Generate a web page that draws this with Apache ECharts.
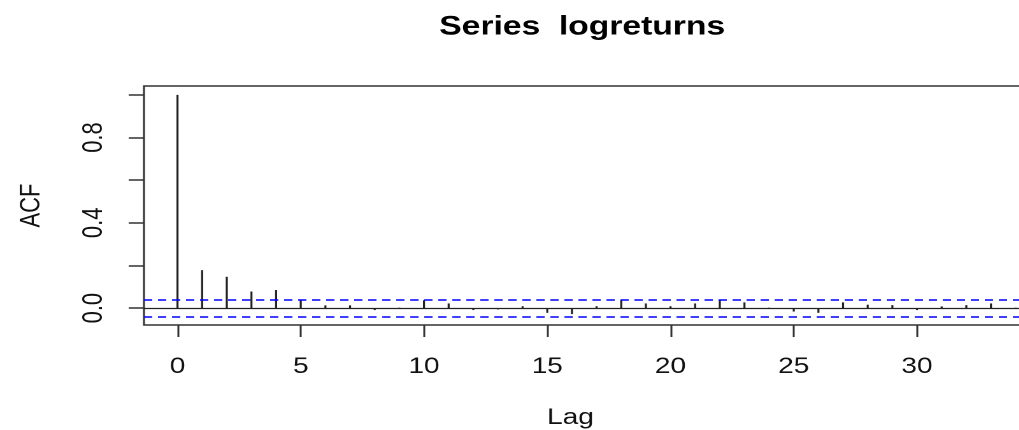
<!DOCTYPE html>
<html>
<head>
<meta charset="utf-8">
<script src="https://cdn.jsdelivr.net/npm/echarts@6/dist/echarts.min.js"></script>
<style>
  html, body { margin: 0; padding: 0; background: #fff; }
  #frame { width: 1019px; height: 430px; overflow: hidden; position: relative; }
  /* the plot is laid out on a narrower canvas and widened horizontally */
  #chart { width: 860px; height: 430px; transform: scaleX(1.274); transform-origin: 0 0; }
</style>
</head>
<body>
<div id="frame"><div id="chart"></div></div>
<script>
// Autocorrelation of the log returns, lags 0..34
const lags = [0, 1, 2, 3, 4, 5, 6, 7, 8, 9, 10, 11, 12, 13, 14, 15, 16, 17,
              18, 19, 20, 21, 22, 23, 24, 25, 26, 27, 28, 29, 30, 31, 32, 33, 34];
const acfValues = [1.0, 0.178, 0.147, 0.078, 0.085, 0.037, 0.013, 0.013, -0.009, 0.002,
                   0.037, 0.022, -0.009, -0.006, 0.009, -0.022, -0.028, 0.009, 0.037, 0.022,
                   0.009, 0.022, 0.036, 0.027, 0.002, -0.016, -0.022, 0.027, 0.016, 0.014,
                   -0.009, 0.008, 0.014, 0.022, 0.002];
// 95% white-noise bound
const confLimit = 0.0376;
// axis ranges, ticks and labels
const xRange = [-1.36, 35.36];
const yRange = [-0.0791, 1.0415];
const xTicks = [0, 5, 10, 15, 20, 25, 30, 35];
const yTicks = [0, 0.2, 0.4, 0.6, 0.8, 1.0];
const yTickLabels = [0, 0.4, 0.8];

const titleText = 'Series  logreturns';
const xName = 'Lag';
const yName = 'ACF';

const FONT = '"Liberation Sans", Arial, sans-serif';
const INK = '#222';

const chart = echarts.init(document.getElementById('chart'), null, { renderer: 'canvas', devicePixelRatio: 2 });

const option = {
  backgroundColor: '#fff',
  animation: false,
  title: {
    text: titleText,
    left: 457,
    top: 14,
    padding: 0,
    textAlign: 'center',
    textStyle: { fontFamily: FONT, fontSize: 26.4, fontWeight: 'bold', color: '#000' }
  },
  grid: {
    left: 113,
    top: 86,
    width: 710.5,
    height: 239,
    show: true,
    borderColor: '#333',
    borderWidth: 1.5,
    backgroundColor: 'transparent',
    containLabel: false,
    outerBoundsMode: 'none'
  },
  xAxis: {
    type: 'value',
    position: 'bottom',
    min: xRange[0],
    max: xRange[1],
    name: xName,
    nameLocation: 'middle',
    nameGap: 82,
    nameMoveOverlap: false,
    nameTextStyle: { fontFamily: FONT, fontSize: 22, color: '#111', padding: [0, 41, 0, 0] },
    axisLine: { show: false, onZero: false },
    splitLine: { show: false },
    axisTick: { show: true, inside: false, length: 12, customValues: xTicks, lineStyle: { color: '#333', width: 1.5 } },
    axisLabel: { show: true, margin: 31, customValues: xTicks, fontFamily: FONT, fontSize: 22, color: '#111',
                 formatter: v => String(v) }
  },
  yAxis: {
    type: 'value',
    position: 'left',
    min: yRange[0],
    max: yRange[1],
    name: yName,
    nameLocation: 'middle',
    nameRotate: 90,
    nameGap: 77,
    nameMoveOverlap: false,
    nameTextStyle: { fontFamily: FONT, fontSize: 22, color: '#111' },
    axisLine: { show: false, onZero: false },
    splitLine: { show: false },
    axisTick: { show: true, inside: false, length: 12, customValues: yTicks, lineStyle: { color: '#333', width: 1.5 } },
    axisLabel: { show: true, rotate: 90, margin: 28, customValues: yTickLabels, fontFamily: FONT, fontSize: 22,
                 color: '#111', formatter: v => v.toFixed(1) }
  },
  series: [{
    type: 'custom',
    name: 'ACF',
    data: lags.map((l, i) => [l, acfValues[i]]),
    clip: true,
    renderItem: function (params, api) {
      const base = api.coord([api.value(0), 0]);
      const tip = api.coord([api.value(0), api.value(1)]);
      return {
        type: 'line',
        shape: { x1: base[0], y1: base[1], x2: tip[0], y2: tip[1] },
        style: { stroke: INK, lineWidth: 1.6, lineCap: 'butt' }
      };
    },
    markLine: {
      silent: true,
      symbol: ['none', 'none'],
      label: { show: false },
      data: [
        { yAxis: 0, lineStyle: { type: 'solid', color: INK, width: 1.3 } },
        { yAxis: confLimit, lineStyle: { type: [6.5, 4.5], color: '#0000ff', width: 1.5 } },
        { yAxis: -confLimit, lineStyle: { type: [6.5, 4.5], color: '#0000ff', width: 1.5 } }
      ]
    }
  }]
};

chart.setOption(option);
</script>
</body>
</html>
